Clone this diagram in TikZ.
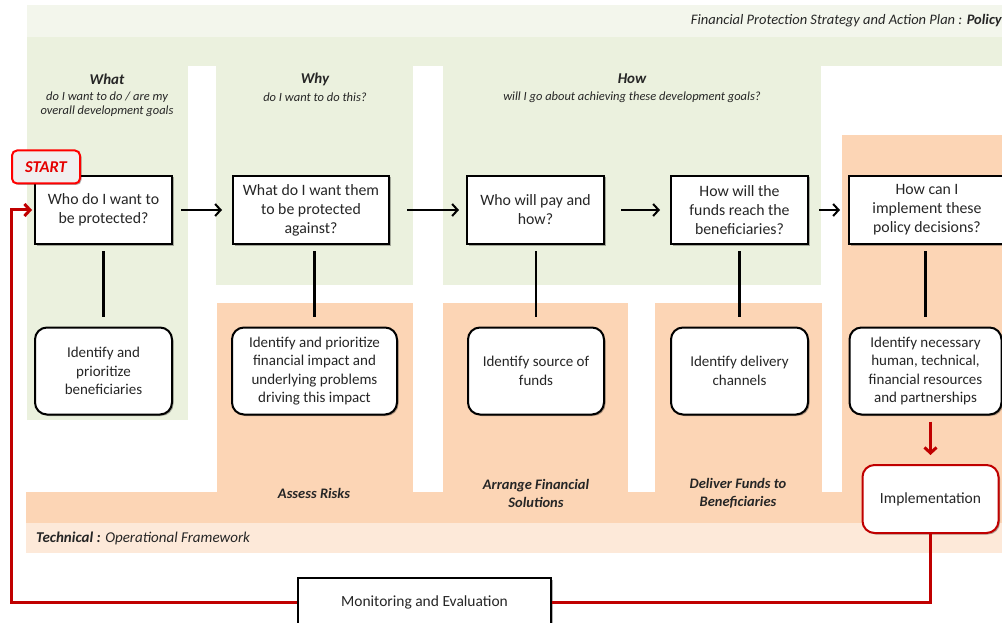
\documentclass[tikz,border=0pt]{standalone}
\usepackage{fontspec}
\setmainfont{Carlito}
\usetikzlibrary{arrows.meta,shadows}
\definecolor{bandtop}{HTML}{F3F6EC}
\definecolor{grn}{HTML}{EBF1DE}
\definecolor{org}{HTML}{FCD5B5}
\definecolor{lorg}{HTML}{FDE9D9}
\definecolor{dred}{HTML}{C00000}
\definecolor{txt}{HTML}{262626}
\tikzset{
  shd/.style={drop shadow={shadow xshift=1.5pt,shadow yshift=-1.5pt,opacity=0.3,fill=black}},
  qbox/.style={draw=black,line width=2pt,fill=white,minimum height=68pt,inner sep=1pt,align=center,
    text=txt,font=\fontsize{15.8}{19}\selectfont,shd},
  abox/.style={draw=black,line width=2pt,fill=white,rounded corners=12pt,minimum height=87pt,inner sep=1pt,align=center,
    text=txt,font=\fontsize{15}{18.5}\selectfont,shd},
  link/.style={line width=2.8pt,black},
  harrow/.style={line width=2pt,black,-{Straight Barb[length=5.5pt,width=12pt]}},
  redline/.style={line width=3pt,dred},
  hdr/.style={font=\fontsize{15}{16}\selectfont\bfseries\itshape,text=txt},
  sub/.style={font=\fontsize{12.5}{14}\selectfont\itshape,text=txt,align=center},
  phase/.style={font=\fontsize{14.5}{18}\selectfont\bfseries\itshape,text=txt,align=center},
}
\begin{document}
\begin{tikzpicture}[x=1pt,y=-1pt]
\useasboundingbox (0,0) rectangle (1002,623);
% backgrounds
\fill[bandtop] (27,5) rectangle (1002,37);
\fill[grn] (27,37) rectangle (1002,66);
\fill[grn] (27,66) rectangle (188,420);
\fill[grn] (216,66) rectangle (413,285);
\fill[grn] (443,66) rectangle (821,285);
\fill[org] (842,135) rectangle (1002,492);
\fill[org] (217,303) rectangle (413,492);
\fill[org] (443,303) rectangle (628,492);
\fill[org] (655,303) rectangle (822,492);
\fill[org] (26,492) rectangle (1002,523);
\fill[lorg] (26,523) rectangle (1002,553);
% band labels
\node[anchor=east,inner sep=0pt,text=txt,font=\fontsize{14.5}{16}\selectfont\itshape] (pol) at (1002,21)
  {Financial Protection Strategy and Action Plan : \textbf{Policy}};
\node[anchor=west,inner sep=0pt,text=txt,font=\fontsize{15}{16}\selectfont\itshape] (tec) at (36,538)
  {\textbf{Technical :} Operational Framework};
% column headers
\node[hdr] (what) at (107,79) {What};
\node[sub] (whatsub) at (107,104) {do I want to do / are my\\overall development goals};
\node[hdr] (why) at (315,79) {Why};
\node[sub] (whysub) at (315,97) {do I want to do this?};
\node[hdr] (how) at (632,79) {How};
\node[sub] (howsub) at (632,97) {will I go about achieving these development goals?};
% phase labels
\node[phase] (p1) at (314,493) {Assess Risks};
\node[phase] (p2) at (536,493) {Arrange Financial\\Solutions};
\node[phase] (p3) at (738,493) {Deliver Funds to\\Beneficiaries};
% question boxes
\node[qbox,minimum width=137pt] (q1) at (103.5,210) {Who do I want to\\be protected?};
\node[qbox,minimum width=156pt] (q2) at (311,210) {What do I want them\\to be protected\\against?};
\node[qbox,minimum width=137pt] (q3) at (535.5,210) {Who will pay and\\how?};
\node[qbox,minimum width=137pt] (q4) at (739.5,210) {How will the\\funds reach the\\beneficiaries?};
\node[qbox,minimum width=156pt] (q5) at (927,210) {How can I\\implement these\\policy decisions?};
% action boxes
\node[abox,minimum width=137pt] (a1) at (103.5,371) {Identify and\\prioritize\\beneficiaries};
\node[abox,minimum width=165pt] (a2) at (314.5,371) {Identify and prioritize\\financial impact and\\underlying problems\\driving this impact};
\node[abox,minimum width=136pt] (a3) at (536,371) {Identify source of\\funds};
\node[abox,minimum width=137pt] (a4) at (739.5,371) {Identify delivery\\channels};
\node[abox,minimum width=152pt] (a5) at (925.5,371) {Identify necessary\\human, technical,\\financial resources\\and partnerships};
% implementation / monitoring
\node[abox,draw=dred,minimum width=136pt,minimum height=68pt,font=\fontsize{15.5}{18}\selectfont] (imp) at (930.5,499) {Implementation};
\node[qbox,minimum width=253pt,minimum height=48pt,font=\fontsize{15.5}{18}\selectfont] (me) at (424.5,602) {Monitoring and Evaluation};
% start
\node[draw=red,fill=gray!12,line width=2pt,rounded corners=5pt,minimum width=68pt,minimum height=33pt,
  text=red!90!black,font=\fontsize{16.5}{18}\selectfont\bfseries\itshape,shd] (start) at (46,167) {START};
% connectors
\draw[link,shorten <=6pt,shorten >=10pt] (a1.north |- q1.south) -- (a1.north);
\draw[link,shorten <=6pt,shorten >=10pt] (a2.north |- q2.south) -- (a2.north);
\draw[link,shorten <=6pt,shorten >=10pt] (a3.north |- q3.south) -- (a3.north);
\draw[link,shorten <=6pt,shorten >=10pt] (a4.north |- q4.south) -- (a4.north);
\draw[link,shorten <=6pt,shorten >=10pt] (a5.north |- q5.south) -- (a5.north);
\draw[harrow,shorten <=8pt,shorten >=10pt] (q1) -- (q2);
\draw[harrow,shorten <=17pt,shorten >=7pt] (q2) -- (q3);
\draw[harrow,shorten <=16pt,shorten >=10pt] (q3) -- (q4);
\draw[harrow,shorten <=10pt,shorten >=8pt] (q4) -- (q5);
\draw[redline,-{Straight Barb[length=5.5pt,width=12pt]},shorten <=6pt,shorten >=9pt] (imp.north |- a5.south) -- (imp.north);
\draw[redline] (imp.south) |- (me.east);
\coordinate (lc) at (11,602);
\draw[redline,-{Straight Barb[length=5.5pt,width=12pt]},shorten >=2pt] (me.west) -- (lc) |- (q1.west);
\end{tikzpicture}
\end{document}
